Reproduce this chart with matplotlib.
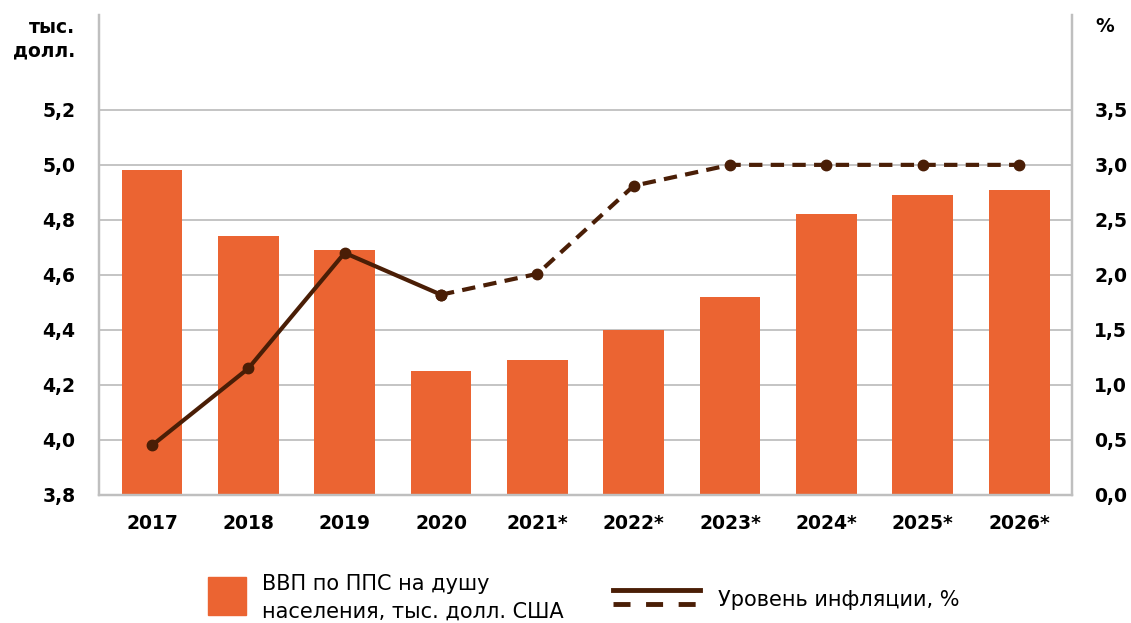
import matplotlib
matplotlib.use("Agg")
import matplotlib.pyplot as plt
from matplotlib.patches import Rectangle
from matplotlib.lines import Line2D

# data
years = ['2017', '2018', '2019', '2020', '2021*', '2022*', '2023*', '2024*', '2025*', '2026*']
gdp_ppp = [4.98, 4.74, 4.69, 4.25, 4.29, 4.40, 4.52, 4.82, 4.89, 4.91]
inflation = [0.45, 1.15, 2.2, 1.82, 2.01, 2.81, 3.0, 3.0, 3.0, 3.0]
n_fact = 4  # first 4 points are facts, rest forecast (dashed)

left_ticks = [3.8, 4.0, 4.2, 4.4, 4.6, 4.8, 5.0, 5.2]
right_ticks = [0.0, 0.5, 1.0, 1.5, 2.0, 2.5, 3.0, 3.5]

BAR_COLOR = '#EB6432'
LINE_COLOR = '#4A1E06'
GRID_COLOR = '#BFBFBF'

plt.rcParams['font.family'] = ['DejaVu Sans']

fig = plt.figure(figsize=(11.31, 6.23), dpi=100)
ax = fig.add_axes([0.0875, 0.2055, 0.8605, 0.7705])
ax2 = ax.twinx()

x = list(range(len(years)))
ax.bar(x, gdp_ppp, width=0.63, color=BAR_COLOR, zorder=2)

ax.set_ylim(3.8, 5.545)
ax.set_xlim(-0.55, 9.55)
ax.set_yticks(left_ticks)
ax.set_yticklabels([f'{v:.1f}'.replace('.', ',') for v in left_ticks],
                   fontsize=13.5, fontweight='bold')
ax.set_xticks(x)
ax.set_xticklabels(years, fontsize=13.5, fontweight='bold')
ax.tick_params(length=0, pad=14)
ax.tick_params(axis='y', pad=17)
for v in left_ticks[1:]:
    ax.axhline(v, color=GRID_COLOR, lw=1.3, zorder=1)

ax2.set_ylim(0, 3.5 + (5.545 - 5.2) / 0.2 * 0.5)
ax2.set_yticks(right_ticks)
ax2.set_yticklabels([f'{v:.1f}'.replace('.', ',') for v in right_ticks],
                    fontsize=13.5, fontweight='bold')
ax2.tick_params(length=0, pad=16)

for a in (ax, ax2):
    a.spines['top'].set_visible(False)
    for s in ('left', 'right', 'bottom'):
        a.spines[s].set_color(GRID_COLOR)
        a.spines[s].set_linewidth(1.6)

ax2.plot(x[:n_fact], inflation[:n_fact], color=LINE_COLOR, lw=3,
         marker='o', ms=7.5, zorder=3)
ax2.plot(x[n_fact - 1:], inflation[n_fact - 1:], color=LINE_COLOR, lw=3,
         ls=(0, (3.2, 2)), marker='o', ms=7.5, zorder=3)

fig.text(75 / 1131, 1 - 39 / 623, 'тыс.\nдолл.', ha='right', va='center',
         fontsize=13.5, fontweight='bold', linespacing=1.3)
fig.text(1095 / 1131, 1 - 27 / 623, '%', ha='left', va='center',
         fontsize=13.5, fontweight='bold')

# legend drawn by hand under the plot
lg = fig.add_axes([0, 0, 1, 1], zorder=-1)
lg.set_xlim(0, 1131)
lg.set_ylim(623, 0)
lg.axis('off')
lg.add_patch(Rectangle((208, 577), 38, 38, color=BAR_COLOR))
lg.text(262, 598, 'ВВП по ППС на душу\nнаселения, тыс. долл. США',
        fontsize=15, va='center', ha='left', linespacing=1.5)
lg.add_line(Line2D([613, 700], [590, 590], color=LINE_COLOR, lw=3.5))
lg.add_line(Line2D([613, 700], [604, 604], color=LINE_COLOR, lw=3.5,
                   ls=(0, (3.5, 3.2))))
lg.text(718, 600, 'Уровень инфляции, %', fontsize=15,
        va='center', ha='left')

fig.savefig('out.png', dpi=100)
